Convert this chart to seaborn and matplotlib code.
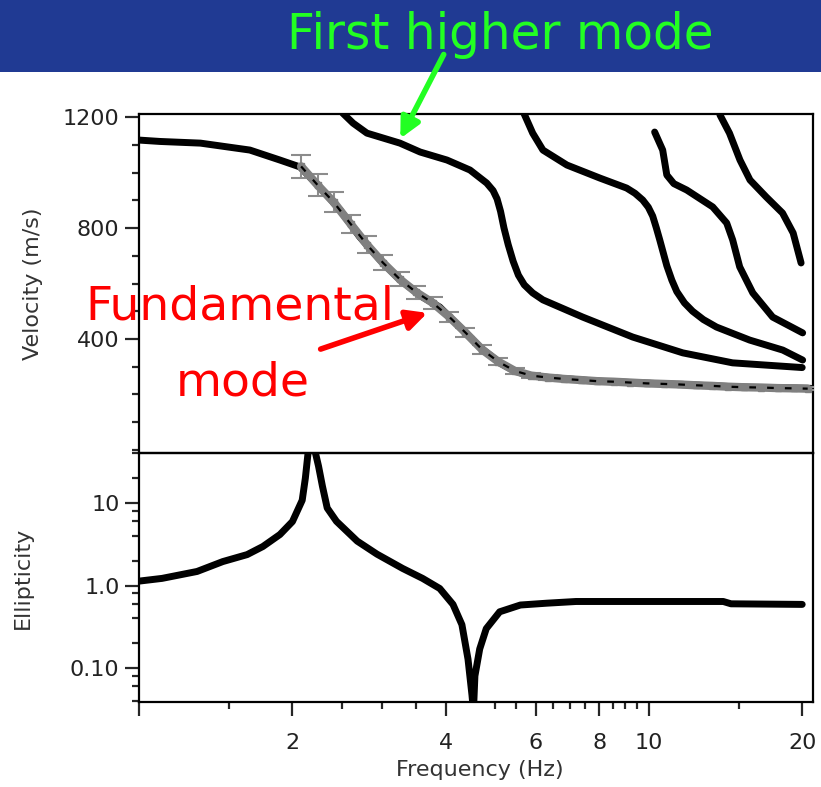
import matplotlib
matplotlib.use("Agg")
import matplotlib.pyplot as plt
from matplotlib.patches import Rectangle, FancyArrowPatch
from matplotlib.ticker import NullFormatter, FixedLocator, FixedFormatter
import seaborn as sns

# ---------------- data ----------------
# Fundamental mode (model curve)
fund_f = [1.0, 1.10, 1.32, 1.65, 1.89, 2.07, 2.26, 2.48, 2.71, 2.97, 3.25, 3.60, 3.89,
          4.26, 4.66, 5.10, 5.41, 5.76, 6.31, 7.91, 11.5, 15.6, 20.8]
fund_v = [1117, 1112, 1106, 1081, 1045, 1020, 948, 865, 768, 685, 613, 551, 515,
          443, 371, 314, 288, 270, 262, 248, 236, 226, 222]

# Measured dispersion points with error bars
obs_f = [2.08, 2.24, 2.41, 2.60, 2.80, 3.01, 3.25, 3.50, 3.77, 4.06, 4.37, 4.71, 5.07,
         5.46, 5.88, 6.34, 6.82, 7.35, 7.92, 8.53, 9.19, 9.90, 10.7, 11.5, 12.4, 13.3,
         14.3, 15.4, 16.6, 17.9, 19.3, 20.5]
obs_v = [1022, 955, 893, 815, 740, 675, 615, 568, 530, 480, 423, 362, 318,
         285, 268, 261, 256, 252, 248, 246, 243, 240, 238, 236, 233, 231,
         228, 226, 225, 223, 222, 221]
obs_err = [40, 38, 36, 33, 30, 27, 25, 23, 21, 19, 17, 15, 12,
           10, 9, 8, 8, 7, 7, 7, 6, 6, 6, 6, 6, 6,
           6, 6, 6, 6, 6, 6]

# Higher modes
m1_f = [2.46, 2.51, 2.63, 2.80, 3.25, 3.56, 4.02, 4.46, 4.81, 4.95, 5.04, 5.12, 5.20,
        5.30, 5.42, 5.55, 5.70, 5.92, 6.20, 7.42, 9.30, 11.66, 14.6, 20.0]
m1_v = [1260, 1214, 1178, 1142, 1106, 1074, 1045, 1009, 962, 935, 905, 860, 800,
        740, 680, 630, 595, 566, 541, 479, 407, 350, 314, 297]
m2_f = [5.55, 5.71, 5.92, 6.20, 6.91, 8.02, 9.05, 9.40, 9.73, 9.98, 10.18, 10.35,
        10.51, 10.68, 10.85, 11.10, 11.35, 11.75, 12.19, 12.8, 13.58, 15.78, 18.32, 20.04]
m2_v = [1260, 1207, 1142, 1081, 1027, 980, 944, 925, 901, 875, 843, 800,
        757, 710, 664, 612, 571, 530, 500, 470, 443, 396, 360, 324]
m3_f = [10.27, 10.65, 10.85, 11.2, 11.87, 13.35, 14.22, 14.61, 15.08, 16.0, 17.5, 20.04]
m3_v = [1146, 1081, 991, 960, 937, 876, 818, 757, 660, 566, 479, 422]
m4_f = [13.6, 13.8, 14.4, 15.1, 15.8, 17.0, 18.3, 19.2, 19.9]
m4_v = [1260, 1207, 1142, 1045, 973, 912, 854, 782, 674]

# Ellipticity of the fundamental mode
ell_f = [1.0, 1.11, 1.30, 1.46, 1.63, 1.75, 1.89, 2.0, 2.09, 2.12, 2.15, 2.18, 2.21,
         2.25, 2.29, 2.34, 2.44, 2.68, 2.93, 3.29, 3.60, 3.89, 4.13, 4.30, 4.42,
         4.50, 4.53, 4.56, 4.66, 4.80, 5.10, 5.60, 6.30, 7.20, 14.0, 14.5, 20.0]
ell_v = [1.13, 1.22, 1.48, 1.95, 2.37, 2.97, 4.15, 5.96, 10.8, 20, 45, 90, 45,
         28, 16, 8.7, 6.0, 3.45, 2.4, 1.61, 1.22, 0.92, 0.59, 0.335, 0.128,
         0.047, 0.03, 0.08, 0.17, 0.30, 0.48, 0.58, 0.61, 0.64, 0.64, 0.60, 0.59]

x_major = [1, 2, 4, 6, 8, 10, 20]
x_major_labels = ["", "2", "4", "6", "8", "10", "20"]
x_minor = [1.5, 2.5, 3, 3.5, 5, 5.5, 6.5, 7, 7.5, 8.5, 9, 9.5, 15]
v_major = [400, 800, 1200]
v_minor = [0, 100, 200, 300, 500, 600, 700, 900, 1000, 1100]
e_major = [0.1, 1.0, 10]
e_major_labels = ["0.10", "1.0", "10"]
e_minor = [0.04, 0.06, 0.08, 0.2, 0.4, 0.6, 0.8, 2, 4, 6, 8, 20, 40]

# ---------------- figure ----------------
sns.set_style("ticks")
plt.rcParams["font.family"] = ["DejaVu Sans"]

fig = plt.figure(figsize=(8.21, 7.87), dpi=100)
W, H = 821.0, 787.0
L, R = 139 / W, 813 / W
ax1 = fig.add_axes([L, 1 - 453 / H, R - L, (453 - 114) / H])
ax2 = fig.add_axes([L, 1 - 702 / H, R - L, (702 - 453) / H], sharex=ax1)

# banner
fig.patches.append(Rectangle((0, 1 - 72 / H), 1, 72 / H, transform=fig.transFigure,
                             facecolor="#203a93", edgecolor="none", zorder=0))

lw = 5
# top panel
sns.lineplot(x=fund_f, y=fund_v, ax=ax1, color="black", lw=lw, sort=False, estimator=None)
for ff, vv in [(m1_f, m1_v), (m2_f, m2_v), (m3_f, m3_v), (m4_f, m4_v)]:
    sns.lineplot(x=ff, y=vv, ax=ax1, color="black", lw=lw, sort=False, estimator=None)

ax1.errorbar(obs_f, obs_v, yerr=obs_err, fmt="s", color="#808080", ms=5, lw=6,
             ecolor="#8c8c8c", elinewidth=1.5, capsize=7, capthick=1.5, zorder=4,
             ls="-")
sns.lineplot(x=obs_f, y=obs_v, ax=ax1, color="black", lw=1.6, sort=False,
             estimator=None, zorder=5)
ax1.lines[-1].set_dashes([3, 5])

ax1.set_xscale("log")
ax1.set_xlim(1.0, 21.0)
ax1.set_ylim(-11, 1211)
ax1.yaxis.set_major_locator(FixedLocator(v_major))
ax1.yaxis.set_minor_locator(FixedLocator(v_minor))
ax1.yaxis.set_major_formatter(FixedFormatter([str(v) for v in v_major]))
ax1.set_ylabel("Velocity (m/s)", fontsize=16, color="#333333")
ax1.yaxis.set_label_coords(-0.142, 0.5)
ax1.tick_params(axis="x", which="both", bottom=False, labelbottom=False)

# bottom panel
sns.lineplot(x=ell_f, y=ell_v, ax=ax2, color="black", lw=lw, sort=False, estimator=None)
ax2.set_yscale("log")
ax2.set_ylim(0.0387, 40.4)
ax2.yaxis.set_major_locator(FixedLocator(e_major))
ax2.yaxis.set_minor_locator(FixedLocator(e_minor))
ax2.yaxis.set_major_formatter(FixedFormatter(e_major_labels))
ax2.yaxis.set_minor_formatter(NullFormatter())
ax2.set_ylabel("Ellipticity", fontsize=16, color="#333333")
ax2.yaxis.set_label_coords(-0.157, 0.5)

ax2.xaxis.set_major_locator(FixedLocator(x_major))
ax2.xaxis.set_minor_locator(FixedLocator(x_minor))
ax2.xaxis.set_major_formatter(FixedFormatter(x_major_labels))
ax2.xaxis.set_minor_formatter(NullFormatter())
ax2.set_xlabel("Frequency (Hz)", fontsize=16, color="#333333")
ax2.xaxis.set_label_coords(0.506, -0.233)

for ax in (ax1, ax2):
    ax.set_facecolor("none")
    for s in ax.spines.values():
        s.set_linewidth(1.6)
        s.set_color("black")
    ax.tick_params(axis="both", which="major", length=10, width=1.6, direction="out",
                   labelsize=16, labelcolor="#222222", pad=4)
    ax.tick_params(axis="both", which="minor", length=5, width=1.6, direction="out")
    ax.tick_params(axis="y", which="both", right=False)
    ax.tick_params(axis="x", which="both", top=False)
ax2.tick_params(axis="x", which="major", pad=12)

# annotations
fig.text(500 / W, 1 - 35 / H, "First higher mode", color="#22ff22", fontsize=35,
         ha="center", va="center")
fig.text(240 / W, 1 - 307 / H, "Fundamental", color="#ff0000", fontsize=34,
         ha="center", va="center", zorder=10)
fig.text(243 / W, 1 - 383 / H, "mode", color="#ff0000", fontsize=34,
         ha="center", va="center", zorder=10)

fig.add_artist(FancyArrowPatch(
    (445 / W, 1 - 52 / H), (399 / W, 1 - 141 / H), transform=fig.transFigure,
    arrowstyle="-|>", mutation_scale=30, lw=4, color="#22ff22", zorder=10))
fig.add_artist(FancyArrowPatch(
    (318 / W, 1 - 350 / H), (430 / W, 1 - 312 / H), transform=fig.transFigure,
    arrowstyle="-|>", mutation_scale=30, lw=4, color="#ff0000", zorder=10))

fig.savefig("out.png", dpi=100, facecolor="white")
